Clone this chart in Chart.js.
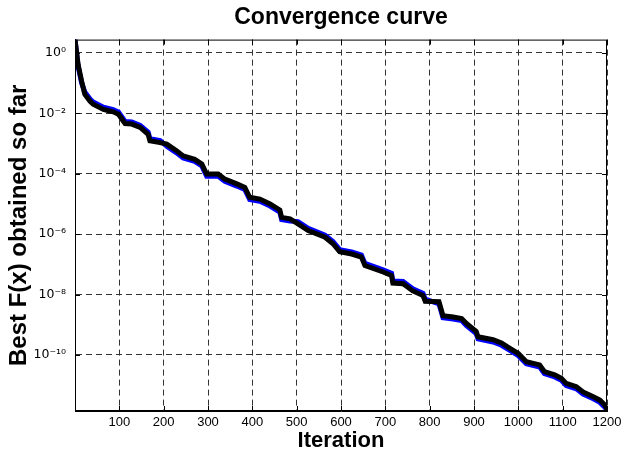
<!DOCTYPE html>
<html>
<head>
<meta charset="utf-8">
<title>Convergence curve</title>
<script src="https://cdn.jsdelivr.net/npm/chart.js@4/dist/chart.umd.min.js"></script>
<style>
  html, body { margin: 0; padding: 0; background: #fff; }
  canvas { display: block; }
</style>
</head>
<body>
<canvas id="curve" width="622" height="461"></canvas>
<script>
const iterations = [0, 7, 15, 22, 34, 41, 64, 86, 98, 113,
    128, 147, 165, 169, 192, 207, 229, 244, 270, 286,
    297, 323, 338, 365, 383, 394, 417, 440, 462, 466,
    485, 503, 526, 564, 582, 597, 624, 646, 654, 695,
    714, 717, 740, 762, 785, 790, 821, 830, 853, 872,
    883, 905, 909, 943, 962, 981, 1000, 1018, 1048, 1059,
    1082, 1097, 1108, 1131, 1146, 1168, 1184, 1195, 1200];

const bestBlue = [2.75, 0.36, 0.1, 0.051, 0.0295, 0.0236, 0.0159, 0.0132, 0.011, 5.4e-3,
    5.2e-3, 4.0e-3, 2.36e-3, 1.45e-3, 1.26e-3, 8.1e-4, 4.9e-4, 3.3e-4, 2.55e-4, 1.8e-4,
    8.3e-5, 8.3e-5, 5.6e-5, 3.9e-5, 3.0e-5, 1.41e-5, 1.23e-5, 8.5e-6, 5.4e-6, 3.06e-6,
    2.72e-6, 2.6e-6, 1.56e-6, 9.3e-7, 5.7e-7, 3.07e-7, 2.6e-7, 2.05e-7, 1.07e-7, 6.6e-8,
    5.1e-8, 2.83e-8, 2.71e-8, 1.56e-8, 1.1e-8, 7.1e-9, 4.9e-9, 1.7e-9, 1.55e-9, 1.38e-9,
    9.4e-10, 5.1e-10, 3.4e-10, 2.7e-10, 2.1e-10, 1.41e-10, 9.5e-11, 5.1e-11, 4.0e-11, 2.4e-11,
    1.87e-11, 1.45e-11, 9.8e-12, 7.6e-12, 5.1e-12, 3.6e-12, 2.7e-12, 1.87e-12, 1.45e-12];

const bestBlack = [2.75, 0.41, 0.115, 0.043, 0.025, 0.020, 0.0135, 0.0112, 9.3e-3, 4.6e-3,
    4.4e-3, 3.4e-3, 2.0e-3, 1.23e-3, 1.07e-3, 9.5e-4, 5.8e-4, 3.9e-4, 3.0e-4, 2.1e-4,
    9.8e-5, 9.8e-5, 6.6e-5, 4.6e-5, 3.5e-5, 1.66e-5, 1.45e-5, 1.0e-5, 6.3e-6, 3.6e-6,
    3.2e-6, 2.2e-6, 1.32e-6, 7.9e-7, 4.8e-7, 2.6e-7, 2.2e-7, 1.74e-7, 9.1e-8, 5.6e-8,
    4.3e-8, 2.4e-8, 2.3e-8, 1.32e-8, 9.3e-9, 6.0e-9, 5.8e-9, 2.0e-9, 1.82e-9, 1.62e-9,
    1.10e-9, 6.0e-10, 4.0e-10, 3.2e-10, 2.5e-10, 1.66e-10, 1.12e-10, 6.0e-11, 4.7e-11, 2.8e-11,
    2.2e-11, 1.70e-11, 1.15e-11, 8.9e-12, 6.0e-12, 4.2e-12, 3.2e-12, 2.2e-12, 1.6e-12];

const yTickValues = [1, 1e-2, 1e-4, 1e-6, 1e-8, 1e-10];
const yTickLabels = ['10⁰', '10⁻²', '10⁻⁴', '10⁻⁶', '10⁻⁸', '10⁻¹⁰'];

const FONT = "'Liberation Sans', Arial, Helvetica, sans-serif";

function points(values) {
    return iterations.map((it, i) => ({ x: it, y: values[i] }));
}

// axes box with inward tick marks, like the matlab figure
const boxPlugin = {
    id: 'box',
    afterDraw(chart) {
        const { ctx, chartArea: a, scales: { x, y } } = chart;
        ctx.save();
        ctx.strokeStyle = '#000';
        ctx.lineWidth = 1;
        ctx.setLineDash([]);
        ctx.strokeRect(a.left + 0.5, a.top + 0.5, a.right - a.left - 1, a.bottom - a.top - 1);
        ctx.beginPath();
        x.ticks.forEach(t => {
            const px = Math.round(x.getPixelForValue(t.value)) + 0.5;
            ctx.moveTo(px, a.bottom); ctx.lineTo(px, a.bottom - 5);
            ctx.moveTo(px, a.top); ctx.lineTo(px, a.top + 5);
        });
        y.ticks.forEach(t => {
            const py = Math.round(y.getPixelForValue(t.value)) + 0.5;
            ctx.moveTo(a.left, py); ctx.lineTo(a.left + 5, py);
            ctx.moveTo(a.right, py); ctx.lineTo(a.right - 5, py);
        });
        ctx.stroke();
        ctx.restore();
    }
};

new Chart(document.getElementById('curve'), {
    type: 'line',
    data: {
        datasets: [
            {
                label: 'black',
                data: points(bestBlack),
                borderColor: '#000',
                borderWidth: 5,
                pointRadius: 0,
                tension: 0,
                order: 1
            },
            {
                label: 'blue',
                data: points(bestBlue),
                borderColor: '#0000ff',
                borderWidth: 5,
                pointRadius: 0,
                tension: 0,
                order: 2
            }
        ]
    },
    options: {
        responsive: false,
        animation: false,
        layout: { padding: 0 },
        plugins: {
            legend: { display: false },
            tooltip: { enabled: false },
            title: {
                display: true,
                text: 'Convergence curve',
                fullSize: false,
                color: '#000',
                font: { family: FONT, size: 23, weight: 'bold' },
                padding: { top: 4, bottom: 8 }
            }
        },
        scales: {
            x: {
                type: 'linear',
                min: 0,
                max: 1200,
                afterFit(scale) {
                    scale.height = 50;
                    scale.paddingLeft = 0;
                    scale.paddingRight = 15;
                },
                ticks: {
                    stepSize: 100,
                    color: '#000',
                    padding: 4,
                    maxRotation: 0,
                    font: { family: FONT, size: 13 },
                    callback: v => v === 0 ? '' : v
                },
                grid: { color: '#333', lineWidth: 1, drawTicks: false },
                border: { color: '#000', dash: [6, 4] },
                title: {
                    display: true,
                    text: 'Iteration',
                    color: '#000',
                    font: { family: FONT, size: 22, weight: 'bold' },
                    padding: { top: 0, bottom: 7 }
                }
            },
            y: {
                type: 'logarithmic',
                min: 1.4e-12,
                max: 2.75,
                afterFit(scale) { scale.width = 75; },
                afterBuildTicks(scale) {
                    scale.ticks = yTickValues.map(v => ({ value: v }));
                },
                ticks: {
                    color: '#000',
                    padding: 9,
                    font: { family: "'DejaVu Sans', sans-serif", size: 12.5 },
                    callback: (v) => {
                        const i = yTickValues.indexOf(v);
                        return i >= 0 ? yTickLabels[i] : '';
                    }
                },
                grid: { color: '#333', lineWidth: 1, drawTicks: false },
                border: { color: '#000', dash: [6, 4] },
                title: {
                    display: true,
                    text: 'Best F(x) obtained so far',
                    color: '#000',
                    font: { family: FONT, size: 24, weight: 'bold' },
                    padding: { top: 5, bottom: 0 }
                }
            }
        }
    },
    plugins: [boxPlugin]
});
</script>
</body>
</html>
